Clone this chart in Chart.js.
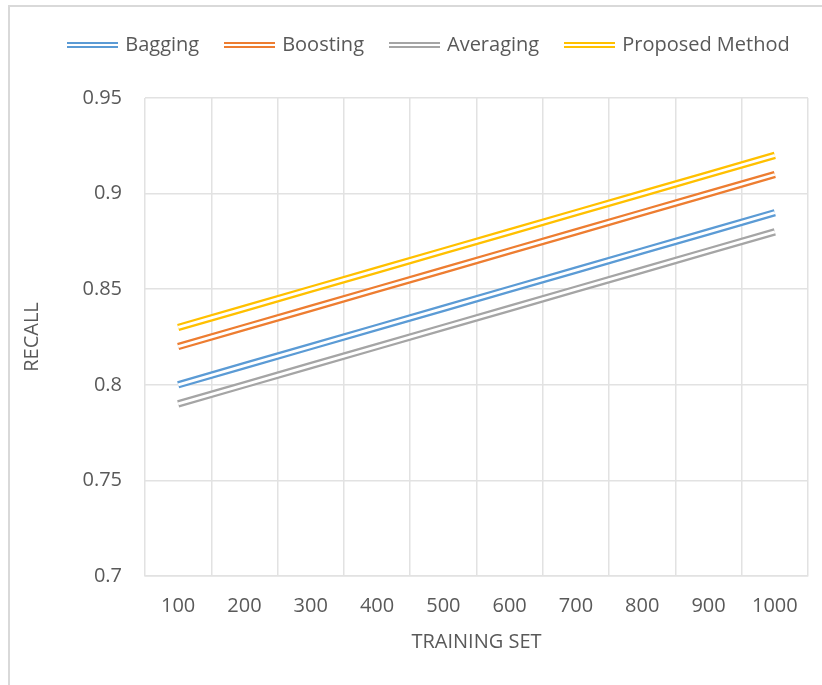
<!DOCTYPE html>
<html>
<head>
<meta charset="utf-8">
<script src="https://cdn.jsdelivr.net/npm/chart.js@4/dist/chart.umd.min.js"></script>
<style>
  html, body { margin: 0; padding: 0; background: #ffffff; }
  #wrap { position: relative; width: 822px; height: 685px; overflow: hidden; }
  canvas { display: block; }
</style>
</head>
<body>
<div id="wrap"><canvas id="chart" width="822" height="685"></canvas></div>
<script>
// Training set sizes (x categories)
const trainingSizes = ['100', '200', '300', '400', '500', '600', '700', '800', '900', '1000'];

// Recall per method
const bagging   = [0.80, 0.81, 0.82, 0.83, 0.84, 0.85, 0.86, 0.87, 0.88, 0.89];
const boosting  = [0.82, 0.83, 0.84, 0.85, 0.86, 0.87, 0.88, 0.89, 0.90, 0.91];
const averaging = [0.79, 0.80, 0.81, 0.82, 0.83, 0.84, 0.85, 0.86, 0.87, 0.88];
const proposed  = [0.83, 0.84, 0.85, 0.86, 0.87, 0.88, 0.89, 0.90, 0.91, 0.92];

const seriesNames = ['Bagging', 'Boosting', 'Averaging', 'Proposed Method'];
const seriesColors = ['#5B9BD5', '#ED7D31', '#A5A5A5', '#FFC000'];

const TEXT = '#595959';
const GRID = '#E2E2E2';
const FONT = '"Open Sans", Lato, sans-serif';

// Legend swatch: two thin parallel stripes
function doubleStripe(color) {
  const c = document.createElement('canvas');
  c.width = 51; c.height = 6;
  const g = c.getContext('2d');
  g.fillStyle = color;
  g.fillRect(0, 0, 51, 2);
  g.fillRect(0, 4, 51, 2);
  return c;
}

// Carve a white core down the middle of each line for the double-stroke look
const doubleLine = {
  id: 'doubleLine',
  afterDatasetDraw(chart, args) {
    const pts = args.meta.data;
    if (!pts.length) return;
    const ctx = chart.ctx;
    ctx.save();
    ctx.beginPath();
    ctx.moveTo(pts[0].x, pts[0].y);
    for (let i = 1; i < pts.length; i++) ctx.lineTo(pts[i].x, pts[i].y);
    ctx.lineWidth = 2.8;
    ctx.lineCap = 'butt';
    ctx.lineJoin = 'miter';
    ctx.strokeStyle = '#ffffff';
    ctx.stroke();
    ctx.restore();
  }
};

// Light frame along the top and left edges of the figure
const frame = {
  id: 'frame',
  beforeDraw(chart) {
    const ctx = chart.ctx;
    ctx.save();
    ctx.strokeStyle = '#D9D9D9';
    ctx.lineWidth = 2;
    ctx.beginPath();
    ctx.moveTo(9, 700);
    ctx.lineTo(9, 6);
    ctx.lineTo(840, 6);
    ctx.stroke();
    ctx.restore();
  }
};

// Place the legend row higher and slightly to the right of its default slot
const legendShift = {
  id: 'legendShift',
  afterLayout(chart) {
    const lg = chart.legend;
    if (!lg) return;
    const dx = 26, dy = -33;
    lg.left += dx; lg.right += dx;
    lg.top += dy; lg.bottom += dy;
  }
};

const allSeries = [bagging, boosting, averaging, proposed];

new Chart(document.getElementById('chart'), {
  type: 'line',
  data: {
    labels: trainingSizes,
    datasets: allSeries.map((vals, i) => ({
      label: seriesNames[i],
      data: vals,
      borderColor: seriesColors[i],
      backgroundColor: seriesColors[i],
      borderWidth: 7.4,
      borderCapStyle: 'butt',
      pointRadius: 0,
      pointHoverRadius: 0,
      pointStyle: doubleStripe(seriesColors[i]),
      tension: 0,
      fill: false
    }))
  },
  options: {
    responsive: false,
    animation: false,
    events: [],
    layout: { padding: { top: 40, left: 0, right: 14, bottom: 0 } },
    plugins: {
      legend: {
        position: 'top',
        labels: {
          usePointStyle: true,
          pointStyleWidth: 45,
          boxHeight: 6,
          padding: 28,
          color: TEXT,
          font: { family: FONT, size: 20 }
        }
      },
      tooltip: { enabled: false }
    },
    scales: {
      x: {
        offset: true,
        grid: { color: GRID, lineWidth: 1.5, drawTicks: false, offset: true },
        border: { color: GRID, width: 1.5 },
        ticks: { color: TEXT, font: { family: FONT, size: 20 }, padding: 18, maxRotation: 0 },
        title: {
          display: true, text: 'TRAINING SET', color: TEXT,
          font: { family: FONT, size: 20 }, padding: { top: 0, bottom: 31 }
        },
        afterFit(scale) { scale.height = 109; }
      },
      y: {
        min: 0.7,
        max: 0.95,
        grid: { color: GRID, lineWidth: 1.5, drawTicks: false },
        border: { display: false },
        ticks: {
          stepSize: 0.05,
          color: TEXT,
          font: { family: FONT, size: 20 },
          padding: 23,
          callback: (v) => String(Number(v.toFixed(2)))
        },
        title: {
          display: true, text: 'RECALL', color: TEXT,
          font: { family: FONT, size: 20 }, padding: { top: 20, bottom: 0 }
        },
        afterFit(scale) { scale.width = 145; }
      }
    }
  },
  plugins: [frame, legendShift, doubleLine]
});
</script>
</body>
</html>
